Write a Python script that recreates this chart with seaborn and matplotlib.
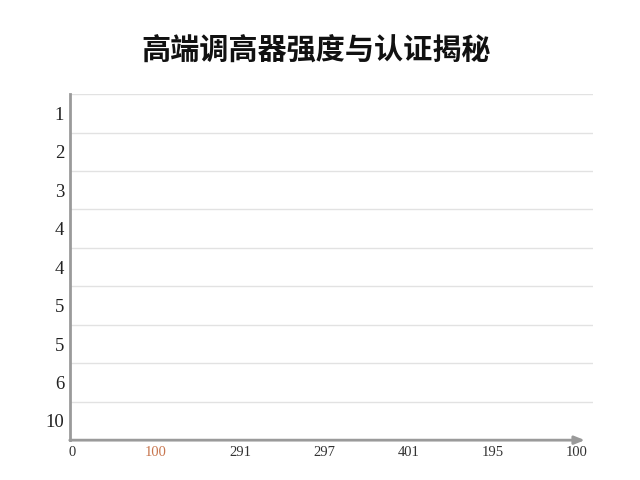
import matplotlib
matplotlib.use("Agg")
import matplotlib.pyplot as plt
import seaborn as sns
import pandas as pd

title = "高端调高器强度与认证揭秘"
row_labels = ["1", "2", "3", "4", "4", "5", "5", "6", "10"]
row_values = [0, 0, 0, 0, 0, 0, 0, 0, 0]
x_tick_labels = ["0", "100", "291", "297", "401", "195", "100"]

sns.set_theme(style="white")
plt.rcParams["font.family"] = ["Noto Sans CJK SC", "DejaVu Sans"]

df = pd.DataFrame({"row": range(len(row_labels)), "value": row_values})

fig = plt.figure(figsize=(6.4, 4.8), dpi=100)
ax = fig.add_axes([0.109, 0.083, 0.818, 0.721])

# no visible marks in the reference, bars have zero length
sns.barplot(data=df, x="value", y="row", orient="h", ax=ax,
            color="#4c72b0", linewidth=0, order=list(range(len(row_labels))))

n = len(row_labels)
ax.set_ylim(n - 0.5, -0.5)
ax.set_yticks(range(n))
ax.set_yticklabels(row_labels, family="Liberation Serif", fontsize=13.5, color="#222222")
for y in range(n):
    ax.axhline(y - 0.5, color="#e2e2e2", lw=1, zorder=0)

ax.set_xlim(-0.024, 6.2)
ax.set_xticks(range(len(x_tick_labels)))
ax.set_xticklabels(x_tick_labels, family="Liberation Serif", fontsize=10.5, color="#333333")
ax.get_xticklabels()[1].set_color("#c8764f")
ax.tick_params(axis="x", length=3, width=0.8, color="#aaaaaa", direction="inout", pad=3)
ax.tick_params(axis="y", length=0, pad=4)
ax.set_xlabel("")
ax.set_ylabel("")

sns.despine(ax=ax, top=True, right=True)
ax.spines["left"].set_color("#9a9a9a")
ax.spines["left"].set_linewidth(2)
ax.spines["bottom"].set_visible(False)
ax.annotate("", xy=(6.1, n - 0.5), xytext=(-0.024, n - 0.5),
            xycoords="data", annotation_clip=False,
            arrowprops=dict(arrowstyle="-|>,head_length=0.5,head_width=0.2",
                            color="#9a9a9a", lw=2, shrinkA=0, shrinkB=0))

fig.suptitle(title, x=0.494, y=0.925, fontsize=21, fontweight="heavy", color="#111111")

fig.savefig("out.png", dpi=100)
